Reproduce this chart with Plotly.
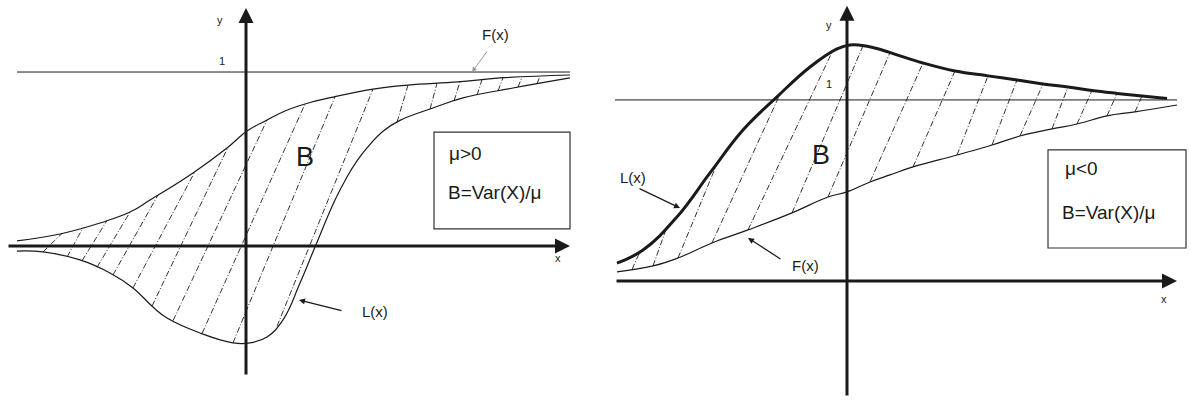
import numpy as np
import plotly.graph_objects as go

# left panel (mu > 0): F(x) upper, L(x) lower
left_F_x = [-2.29, -1.86, -1.46, -1.16, -0.96, -0.53, -0.19, 0.01, 0.21, 0.39, 0.59, 0.87, 1.27, 1.62, 2.12, 2.54, 3.24]
left_F_y = [0.029, 0.069, 0.132, 0.195, 0.264, 0.420, 0.563, 0.661, 0.724, 0.776, 0.816, 0.856, 0.902, 0.925, 0.943, 0.966, 0.983]
left_L_x = [-2.29, -2.03, -1.66, -1.36, -1.13, -0.93, -0.79, -0.46, -0.13, 0.04, 0.21, 0.37, 0.54, 0.69, 0.89, 1.01,
            1.11, 1.21, 1.37, 1.54, 1.87, 2.17, 2.67, 3.24]
left_L_y = [-0.029, -0.034, -0.080, -0.155, -0.241, -0.351, -0.414, -0.500, -0.557, -0.557, -0.523, -0.425, -0.213,
            -0.006, 0.264, 0.397, 0.489, 0.564, 0.660, 0.722, 0.793, 0.851, 0.908, 0.966]
left_hatch_from = [-2.03, -1.79, -1.64, -1.49, -1.33, -1.13, -0.94, -0.73, -0.44, -0.13, 0.31, 1.51, 1.84, 2.08, 2.31, 2.52, 2.72, 2.91]
left_hatch_to = [-1.84, -1.63, -1.39, -1.16, -0.88, -0.51, -0.18, 0.21, 0.59, 0.89, 1.27, 1.62, 1.91, 2.14, 2.36, 2.57, 2.76, 2.94]

# right panel (mu < 0): L(x) upper (thick), F(x) lower
right_L_x = [-2.30, -2.04, -1.70, -1.37, -1.04, -0.70, -0.37, -0.10, 0.03, 0.19, 0.35, 0.50, 0.76, 1.08, 1.41, 1.70,
             1.96, 2.21, 2.45, 2.70, 2.95, 3.20]
right_L_y = [0.099, 0.171, 0.354, 0.597, 0.834, 1.017, 1.182, 1.282, 1.304, 1.298, 1.276, 1.249, 1.204, 1.160, 1.133,
             1.110, 1.088, 1.072, 1.052, 1.036, 1.022, 1.008]
right_F_x = [-2.30, -1.94, -1.69, -1.35, -0.99, -0.55, -0.19, 0.00, 0.23, 0.43, 0.66, 1.10, 1.45, 1.73, 2.05, 2.30,
             2.60, 2.88, 3.30]
right_F_y = [0.050, 0.083, 0.127, 0.210, 0.282, 0.376, 0.464, 0.492, 0.547, 0.586, 0.630, 0.696, 0.751, 0.801, 0.840,
             0.867, 0.912, 0.934, 0.972]
right_hatch_from = [-2.15, -1.94, -1.69, -1.35, -0.99, -0.55, -0.19, 0.23, 0.66, 1.10, 1.45, 1.73, 2.05, 2.30, 2.60, 2.88]
right_hatch_to = [-2.07, -1.80, -1.30, -0.67, -0.15, 0.16, 0.43, 0.76, 1.08, 1.41, 1.70, 1.96, 2.21, 2.45, 2.70, 2.95]

INK = "#1a1a1a"
FONT = "Liberation Sans, Arial, sans-serif"


def hatch(x0s, x1s, lo_x, lo_y, hi_x, hi_y):
    xs, ys = [], []
    for a, b in zip(x0s, x1s):
        xs += [a, b, None]
        ys += [np.interp(a, lo_x, lo_y), np.interp(b, hi_x, hi_y), None]
    return xs, ys


fig = go.Figure()

# left panel
hx, hy = hatch(left_hatch_from, left_hatch_to, left_L_x, left_L_y, left_F_x, left_F_y)
fig.add_trace(go.Scatter(x=hx, y=hy, mode="lines", line=dict(color="#333", width=1, dash="6px,2px,1px,2px"),
                         xaxis="x", yaxis="y"))
fig.add_trace(go.Scatter(x=left_F_x, y=left_F_y, mode="lines",
                         line=dict(color=INK, width=1.2, shape="spline", smoothing=1.2), xaxis="x", yaxis="y"))
fig.add_trace(go.Scatter(x=left_L_x, y=left_L_y, mode="lines",
                         line=dict(color=INK, width=1.2, shape="spline", smoothing=1.2), xaxis="x", yaxis="y"))
fig.add_trace(go.Scatter(x=[-2.29, 3.24], y=[1, 1], mode="lines", line=dict(color=INK, width=1),
                         xaxis="x", yaxis="y"))

# right panel
hx, hy = hatch(right_hatch_from, right_hatch_to, right_F_x, right_F_y, right_L_x, right_L_y)
fig.add_trace(go.Scatter(x=hx, y=hy, mode="lines", line=dict(color="#333", width=1, dash="6px,2px,1px,2px"),
                         xaxis="x2", yaxis="y2"))
fig.add_trace(go.Scatter(x=right_L_x, y=right_L_y, mode="lines",
                         line=dict(color=INK, width=3, shape="spline", smoothing=1.2), xaxis="x2", yaxis="y2"))
fig.add_trace(go.Scatter(x=right_F_x, y=right_F_y, mode="lines",
                         line=dict(color=INK, width=1.2, shape="spline", smoothing=1.2), xaxis="x2", yaxis="y2"))
fig.add_trace(go.Scatter(x=[-2.32, 3.30], y=[1, 1], mode="lines", line=dict(color=INK, width=1),
                         xaxis="x2", yaxis="y2"))

ann = []


def arrow(xr, yr, x, y, ax, ay, w, color=INK, size=1.0):
    ann.append(dict(xref=xr, yref=yr, axref=xr, ayref=yr, x=x, y=y, ax=ax, ay=ay, text="", showarrow=True,
                    arrowhead=2, arrowsize=size, arrowwidth=w, arrowcolor=color, standoff=0))


def label(xr, yr, x, y, t, size, anchor="center"):
    ann.append(dict(xref=xr, yref=yr, x=x, y=y, text=t, showarrow=False, xanchor=anchor, yanchor="middle",
                    font=dict(family=FONT, size=size, color=INK)))


# axes with arrows
arrow("x", "y", 3.24, 0, -2.39, 0, 3)
arrow("x", "y", 0, 1.368, 0, -0.747, 3)
arrow("x2", "y2", 3.30, 0, -2.32, 0, 3)
arrow("x2", "y2", 0, 1.52, 0, -0.641, 3)

# pointer arrows
arrow("x", "y", 2.26, 1.0, 2.42, 1.126, 1, "#999")
arrow("x", "y", 0.53, -0.31, 0.97, -0.374, 1.2)
arrow("x2", "y2", -1.67, 0.403, -2.09, 0.514, 1.2)
arrow("x2", "y2", -0.99, 0.238, -0.65, 0.116, 1.2)

label("x", "y", -0.26, 1.30, "y", 11)
label("x", "y", -0.24, 1.063, "1", 11)
label("x", "y", 3.12, -0.069, "x", 11)
label("x", "y", 0.59, 0.51, "B", 27)
label("x", "y", 2.49, 1.213, "F(x)", 15)
label("x", "y", 1.29, -0.379, "L(x)", 15)
label("x", "y", 2.01, 0.534, "μ>0", 19, "left")
label("x", "y", 2.0, 0.305, "B=Var(X)/μ", 19, "left")

label("x2", "y2", -0.18, 1.414, "y", 11)
label("x2", "y2", -0.18, 1.088, "1", 11)
label("x2", "y2", 3.17, -0.099, "x", 11)
label("x2", "y2", -0.26, 0.696, "B", 27)
label("x2", "y2", -2.14, 0.569, "L(x)", 15)
label("x2", "y2", -0.42, 0.088, "F(x)", 15)
label("x2", "y2", 2.16, 0.619, "μ<0", 19, "left")
label("x2", "y2", 2.13, 0.381, "B=Var(X)/μ", 19, "left")

shapes = [
    dict(type="rect", xref="x", yref="y", x0=1.88, x1=3.24, y0=0.098, y1=0.655, line=dict(color="#333", width=1.2)),
    dict(type="rect", xref="x2", yref="y2", x0=2.01, x1=3.39, y0=0.182, y1=0.724, line=dict(color="#333", width=1.2)),
]

hidden = dict(visible=False, fixedrange=True)
fig.update_layout(
    width=1191, height=401, margin=dict(l=0, r=0, t=0, b=0),
    paper_bgcolor="white", plot_bgcolor="white", showlegend=False,
    xaxis=dict(domain=[0, 600 / 1191], range=[-2.46, 3.54], **hidden),
    yaxis=dict(domain=[0, 1], range=[-0.891, 1.414], **hidden),
    xaxis2=dict(domain=[600 / 1191, 1], range=[-2.47, 3.44], **hidden),
    yaxis2=dict(domain=[0, 1], range=[-0.663, 1.552], anchor="x2", **hidden),
    annotations=ann, shapes=shapes,
)

fig.write_html("out.html", config={"displayModeBar": False},
               post_script="document.body.style.margin='0';")
